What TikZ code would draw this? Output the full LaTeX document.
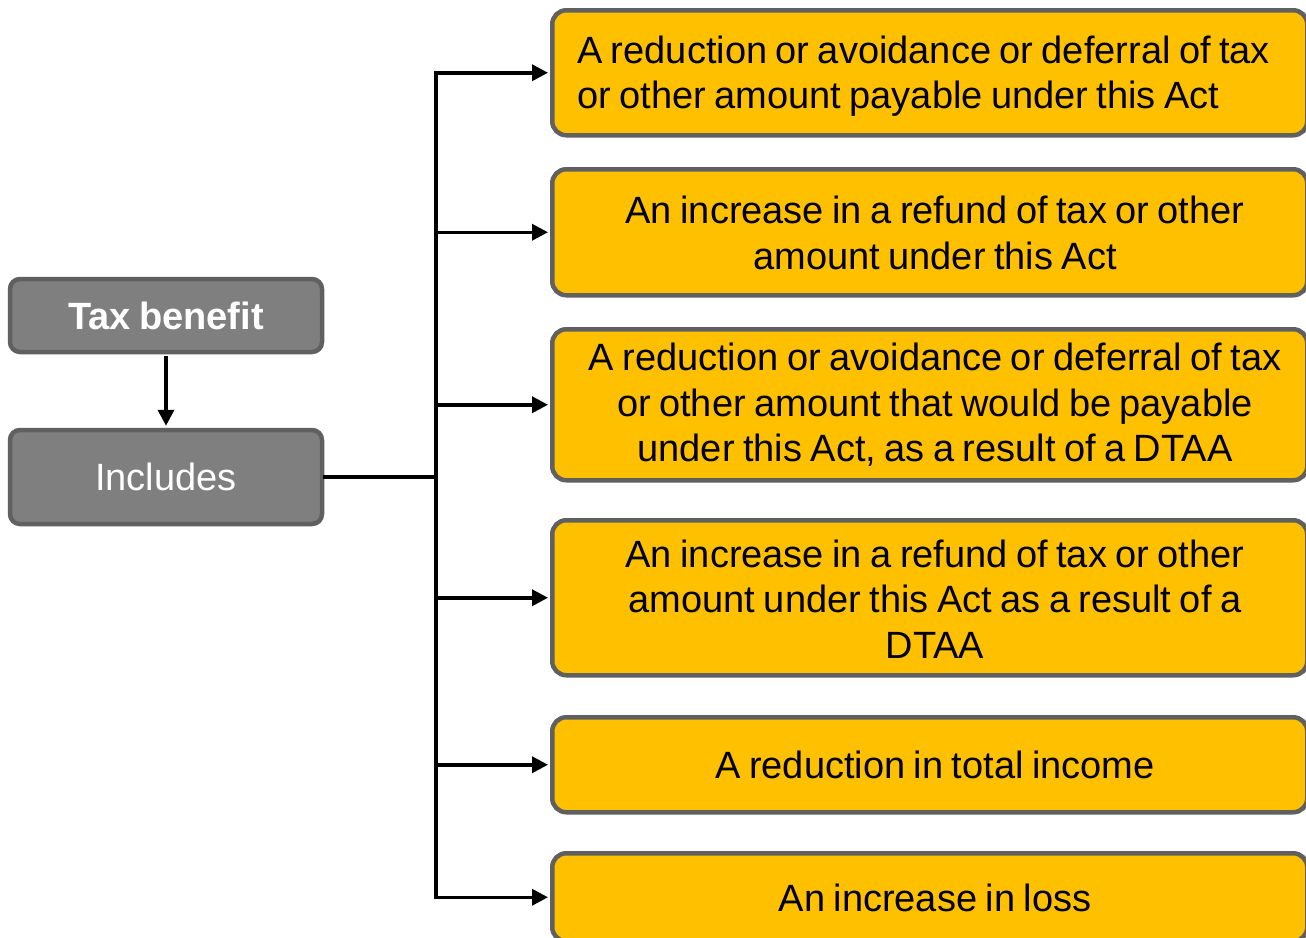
\documentclass[tikz,border=0pt]{standalone}
\usepackage{fontspec}
\setmainfont{Liberation Sans}[WordSpace=0.8]
\usetikzlibrary{arrows.meta}
\definecolor{boxyellow}{HTML}{FFC000}
\definecolor{boxedge}{HTML}{606060}
\definecolor{boxgray}{HTML}{7F7F7F}

\begin{document}
\begin{tikzpicture}[x=1pt,y=-1pt,
  ybox/.style={draw=boxedge, line width=4.5pt, fill=boxyellow, rounded corners=14pt,
    anchor=north west, minimum width=755pt, inner sep=0pt},
  gbox/.style={draw=boxedge, line width=4.5pt, fill=boxgray, rounded corners=10pt,
    minimum width=312pt, inner sep=0pt, text=white, font=\fontsize{38}{45}\selectfont},
  itemtext/.style={align=center, inner sep=0pt, font=\fontsize{38}{45.5}\selectfont},
  link/.style={line width=3.5pt, -{Triangle[length=16pt,width=16pt]}, shorten >=2pt},
  trunk/.style={line width=3.5pt, line cap=rect}]
\useasboundingbox (0,0) rectangle (1306,937);
\clip (0,0) rectangle (1306,937);

% left column
\node[gbox, minimum height=73pt] (tax) at (166,315.5) {\bfseries Tax benefit};
\node[gbox, minimum height=94pt] (inc) at (166,477) {Includes};

% right column boxes
\node[ybox, minimum height=125pt] (b1) at (550,8) {};
\node[ybox, minimum height=126pt] (b2) at (550,167) {};
\node[ybox, minimum height=151pt] (b3) at (550,327) {};
\node[ybox, minimum height=155pt] (b4) at (550,518) {};
\node[ybox, minimum height=95pt]  (b5) at (550,715) {};
\node[ybox, minimum height=88pt]  (b6) at (550,851) {};

% box texts
\node[itemtext, align=left, anchor=west] (t1) at (577,76)
  {A reduction or avoidance or deferral of tax\\or other amount payable under this Act};
\node[itemtext] (t2) at (935,233) {An increase in a refund of tax or other\\amount under this Act};
\node[itemtext] (t3) at (935,405) {A reduction or avoidance or deferral of tax\\or other amount that would be payable\\under this Act, as a result of a DTAA};
\node[itemtext] (t4) at (935,599) {An increase in a refund of tax or other\\amount under this Act as a result of a\\DTAA};
\node[itemtext] (t5) at (935,765) {A reduction in total income};
\node[itemtext] (t6) at (935,898) {An increase in loss};

% connectors
\coordinate (spine) at (436,477);
\draw[link, shorten <=2pt] (tax.south) -- (inc.north);
\draw[trunk] (inc.east) -- (spine);
\draw[trunk] (spine |- b1.west) -- (spine |- b6.west);
\foreach \b in {b1,b2,b3,b4,b5,b6}
  \draw[link] (spine |- \b.west) -- (\b.west);
\end{tikzpicture}
\end{document}
